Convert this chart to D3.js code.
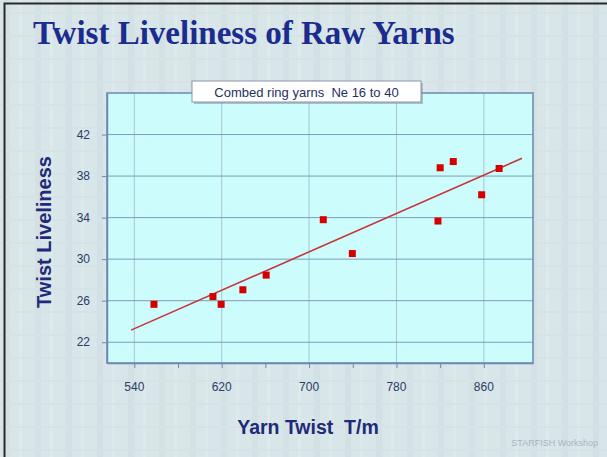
<!DOCTYPE html>
<html>
<head>
<meta charset="utf-8">
<script src="https://cdn.jsdelivr.net/npm/d3@7"></script>
<style>
  html, body { margin: 0; padding: 0; background: #d6e4e8; }
  svg { display: block; }
</style>
</head>
<body>
<div id="chart"></div>
<script>
// yarn twist (T/m) and measured twist liveliness
const twist = [558, 612, 619.5, 639.4, 660.7, 713, 739.6, 818, 820, 832, 858, 874];
const liveliness = [25.65, 26.4, 25.65, 27.05, 28.46, 33.8, 30.54, 33.67, 38.8, 39.4, 36.2, 38.73];
const xTicks = [540, 620, 700, 780, 860];
const xMinorTicks = [540, 580, 620, 660, 700, 740, 780, 820, 860];
const yTicks = [22, 26, 30, 34, 38, 42];
const trendRange = [537, 895];

const W = 607, H = 457;
const margin = { top: 93, right: 74, bottom: 94, left: 107 };
const width = W - margin.left - margin.right;
const height = H - margin.top - margin.bottom;

const svg = d3.select('#chart').append('svg')
  .attr('width', W).attr('height', H)
  .attr('viewBox', `0 0 ${W} ${H}`);

// background with faint texture
const defs = svg.append('defs');
const pat = defs.append('pattern').attr('id', 'tex')
  .attr('width', 31).attr('height', 23).attr('patternUnits', 'userSpaceOnUse');
pat.append('rect').attr('width', 31).attr('height', 23).attr('fill', '#d8e6e9');
pat.append('rect').attr('x', 4).attr('width', 6).attr('height', 23).attr('fill', '#d3e1e5');
pat.append('rect').attr('x', 19).attr('width', 3).attr('height', 23).attr('fill', '#dde9eb');
pat.append('rect').attr('y', 12).attr('width', 31).attr('height', 2).attr('fill', '#d5e3e6');
svg.append('rect').attr('width', W).attr('height', H).attr('fill', 'url(#tex)');

// frame (only top and left visible)
svg.append('path')
  .attr('d', `M4.5,${H} V3.5 H${W}`)
  .attr('fill', 'none').attr('stroke', '#2a2a2a').attr('stroke-width', 2);

// title
svg.append('text')
  .attr('x', 33).attr('y', 44)
  .attr('font-family', '"Liberation Serif", "Times New Roman", serif')
  .attr('font-weight', 'bold').attr('font-size', 33)
  .attr('fill', '#1b2b8e')
  .text('Twist Liveliness of Raw Yarns');

const g = svg.append('g').attr('transform', `translate(${margin.left},${margin.top})`);

const x = d3.scaleLinear().domain([515, 905]).range([0, width]);
const y = d3.scaleLinear().domain([20, 46]).range([height, 0]);

g.append('rect').attr('width', width).attr('height', height).attr('fill', '#ccfcfc');

// gridlines
g.append('g').selectAll('line').data(xTicks).join('line')
  .attr('x1', d => x(d)).attr('x2', d => x(d)).attr('y1', 0).attr('y2', height)
  .attr('stroke', '#a8c4d4').attr('stroke-width', 1);
g.append('g').selectAll('line').data(yTicks).join('line')
  .attr('x1', 0).attr('x2', width).attr('y1', d => y(d)).attr('y2', d => y(d))
  .attr('stroke', '#7e9cb8').attr('stroke-width', 1);

// plot border
g.append('rect').attr('width', width).attr('height', height)
  .attr('fill', 'none').attr('stroke', '#6f86b4').attr('stroke-width', 1.5);

const labelFont = '"Liberation Sans", Arial, sans-serif';

// x axis
const gx = g.append('g').attr('transform', `translate(0,${height})`)
  .call(d3.axisBottom(x).tickValues(xMinorTicks).tickSize(5).tickSizeOuter(0).tickFormat(''));
gx.select('.domain').attr('stroke', '#6f86b4').attr('stroke-width', 1.5);
gx.selectAll('.tick line').attr('stroke', '#6f86b4');
g.append('g').selectAll('text').data(xTicks).join('text')
  .attr('x', d => x(d)).attr('y', height + 28)
  .attr('text-anchor', 'middle')
  .attr('font-family', labelFont).attr('font-size', 12)
  .attr('fill', '#2c3a66')
  .text(d => d);

// y axis
const gy = g.append('g')
  .call(d3.axisLeft(y).tickValues(yTicks).tickSize(5).tickSizeOuter(0).tickFormat(''));
gy.select('.domain').attr('stroke', '#6f86b4').attr('stroke-width', 1.5);
gy.selectAll('.tick line').attr('stroke', '#6f86b4');
g.append('g').selectAll('text').data(yTicks).join('text')
  .attr('x', -17).attr('y', d => y(d) + 4)
  .attr('text-anchor', 'end')
  .attr('font-family', labelFont).attr('font-size', 12)
  .attr('fill', '#2c3a66')
  .text(d => d);

// linear trend line (least squares)
const mx = d3.mean(twist), my = d3.mean(liveliness);
const slope = d3.sum(twist, (v, i) => (v - mx) * (liveliness[i] - my)) /
  d3.sum(twist, v => (v - mx) ** 2);
const intercept = my - slope * mx;
g.append('path')
  .datum(trendRange.map(v => [v, slope * v + intercept]))
  .attr('d', d3.line().x(d => x(d[0])).y(d => y(d[1])))
  .attr('fill', 'none').attr('stroke', '#c8353a').attr('stroke-width', 1.6);

// points
const s = 7;
g.append('g').selectAll('rect').data(twist).join('rect')
  .attr('x', (d, i) => x(d) - s / 2)
  .attr('y', (d, i) => y(liveliness[i]) - s / 2)
  .attr('width', s).attr('height', s)
  .attr('fill', '#d40000');

// series label box
const box = svg.append('g').attr('transform', 'translate(192,81)');
box.append('rect').attr('x', 2).attr('y', 2).attr('width', 229).attr('height', 21).attr('fill', '#8a9aa8').attr('opacity', 0.6);
box.append('rect').attr('width', 229).attr('height', 21)
  .attr('fill', '#ffffff').attr('stroke', '#8a96a8').attr('stroke-width', 1);
box.append('text').attr('x', 114.5).attr('y', 15.5)
  .attr('text-anchor', 'middle')
  .attr('font-family', labelFont).attr('font-size', 13)
  .attr('fill', '#26305e')
  .attr('xml:space', 'preserve')
  .text('Combed ring yarns  Ne 16 to 40');

// axis titles
svg.append('text')
  .attr('x', 308).attr('y', 434)
  .attr('text-anchor', 'middle')
  .attr('font-family', labelFont).attr('font-weight', 'bold').attr('font-size', 19.5)
  .attr('fill', '#1f2a78')
  .attr('xml:space', 'preserve')
  .text('Yarn Twist  T/m');

svg.append('text')
  .attr('transform', 'translate(51,232) rotate(-90)')
  .attr('text-anchor', 'middle')
  .attr('font-family', labelFont).attr('font-weight', 'bold').attr('font-size', 20)
  .attr('fill', '#1f2a78')
  .text('Twist Liveliness');

// watermark
svg.append('text')
  .attr('x', 598).attr('y', 446)
  .attr('text-anchor', 'end')
  .attr('font-family', labelFont).attr('font-size', 9)
  .attr('fill', '#a8b4bf')
  .text('STARFISH Workshop');
</script>
</body>
</html>
